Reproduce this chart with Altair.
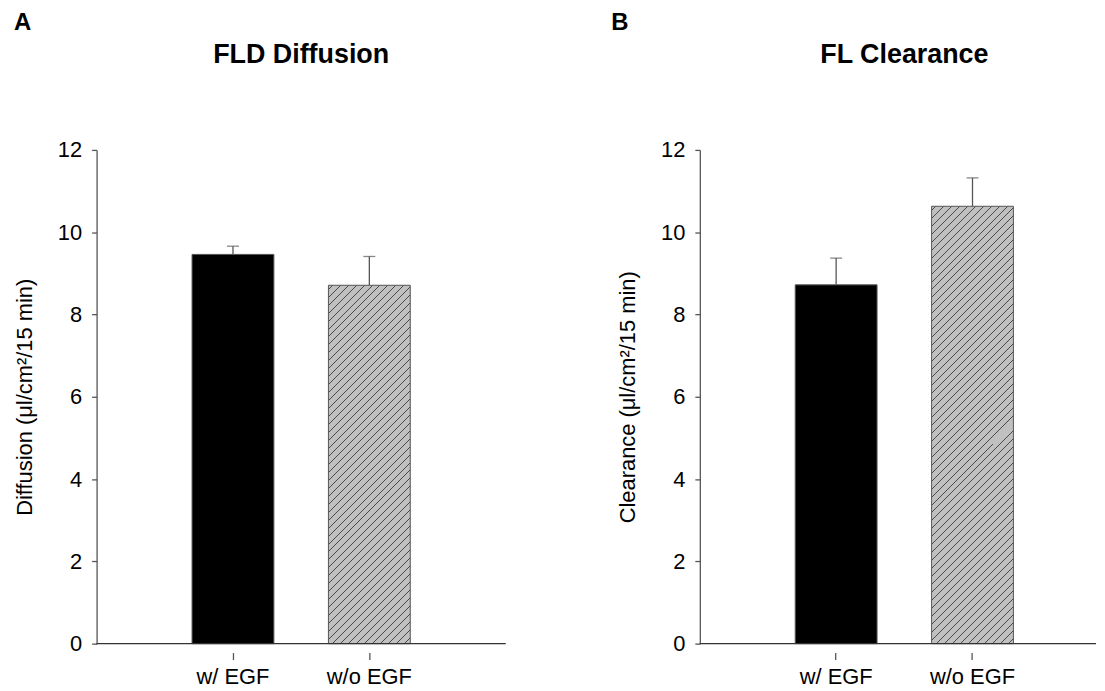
import altair as alt
import pandas as pd

# ---- data ----
groups = ["w/ EGF", "w/o EGF"]
diffusion_mean = [9.46, 8.71]
diffusion_sem = [0.20, 0.70]
clearance_mean = [8.72, 10.63]
clearance_sem = [0.65, 0.69]
y_ticks = [0, 2, 4, 6, 8, 10, 12]

FONT = "Liberation Sans"
H = 496
PX = H / 12.0
STEP = 137.0
BANDW = STEP * 0.6
AXIS_GREY = "#555555"


def hatch_fill(w, h, spacing=8.0, half=0.5, bg="#c0c0c0", fg="#4a4a4a"):
    """Diagonal '/' hatching as a hard-stop linear gradient (bbox units)."""
    total = w + h
    k = total / (w * w + h * h)
    stops = [{"offset": 0, "color": bg}]
    c = spacing / 2.0
    while c < total:
        a = max(0.0, (c - half) / total)
        b = min(1.0, (c + half) / total)
        stops += [
            {"offset": a, "color": bg},
            {"offset": a, "color": fg},
            {"offset": b, "color": fg},
            {"offset": b, "color": bg},
        ]
        c += spacing
    stops.append({"offset": 1, "color": bg})
    return {"gradient": "linear", "x1": 0, "y1": 0, "x2": w * k, "y2": h * k,
            "stops": stops}


def panel(means, sems, ytitle, title, letter, width, po, align, letter_x):
    df = pd.DataFrame({"group": groups, "mean": means, "sem": sems})
    base = alt.Chart(df).transform_calculate(top="datum.mean + datum.sem")

    xenc = alt.X(
        "group:N", sort=groups, title=None,
        scale=alt.Scale(paddingInner=0.4, paddingOuter=po, align=align),
        axis=alt.Axis(labelAngle=0, domain=False, offset=9, tickSize=7,
                      tickColor=AXIS_GREY, tickWidth=1.3, labelFontSize=22,
                      labelFont=FONT, labelColor="black", labelPadding=7),
    )
    yscale = alt.Scale(domain=[0, 12], nice=False)
    yaxis = alt.Axis(values=y_ticks, grid=False, tickSize=5, tickColor=AXIS_GREY,
                     tickWidth=1.3, domainColor=AXIS_GREY, domainWidth=1.3,
                     labelFontSize=22, labelFont=FONT, labelColor="black",
                     labelPadding=10, titleFontSize=22, titleFont=FONT,
                     titleFontWeight="normal", titleColor="black",
                     titlePadding=21)

    def Y(field):
        return alt.Y(field, scale=yscale, axis=yaxis, title=ytitle)

    black = base.transform_filter(alt.datum.group == groups[0]).mark_bar(
        fill="black", stroke=AXIS_GREY, strokeWidth=1
    ).encode(x=xenc, y=Y("mean:Q"))

    h2 = means[1] * PX
    hatched = base.transform_filter(alt.datum.group == groups[1]).mark_bar(
        fill=hatch_fill(BANDW, h2), stroke=AXIS_GREY, strokeWidth=1
    ).encode(x=xenc, y=Y("mean:Q"))

    err = base.mark_rule(color=AXIS_GREY, strokeWidth=1.3).encode(
        x=xenc, y=Y("mean:Q"), y2="top:Q")
    cap = base.mark_tick(orient="horizontal", size=12, thickness=1.3,
                         color=AXIS_GREY).encode(x=xenc, y=Y("top:Q"))

    baseline = alt.Chart(pd.DataFrame({"z": [0]})).mark_rule(
        color="#333333", strokeWidth=1.4
    ).encode(y=alt.Y("z:Q", scale=yscale, axis=yaxis, title=ytitle),
             x=alt.value(0), x2=alt.value(width))

    letter_txt = alt.Chart(pd.DataFrame({"t": [letter]})).mark_text(
        align="left", baseline="alphabetic", fontSize=24, fontWeight="bold",
        font=FONT, color="black"
    ).encode(x=alt.value(letter_x), y=alt.value(-120), text="t:N")

    title_txt = alt.Chart(pd.DataFrame({"t": [title]})).mark_text(
        align="center", baseline="alphabetic", fontSize=27, fontWeight="bold",
        font=FONT, color="black"
    ).encode(x=alt.value(205.5), y=alt.value(-87), text="t:N")

    return alt.layer(hatched, black, err, cap, baseline, letter_txt,
                     title_txt).properties(width=width, height=H)


a = panel(diffusion_mean, diffusion_sem, "Diffusion (μl/cm²/15 min)",
          "FLD Diffusion", "A", 411, 0.7, 0.5, -83)
b = panel(clearance_mean, clearance_sem, "Clearance (μl/cm²/15 min)",
          "FL Clearance", "B", 398, 0.6526, 0.536, -89)

chart = alt.hconcat(a, b, spacing=105).properties(
    padding={"left": 5, "top": 2, "right": 0, "bottom": 0}
).configure_view(stroke=None)

chart.save("out.html", embed_options={"renderer": "svg", "actions": False})
